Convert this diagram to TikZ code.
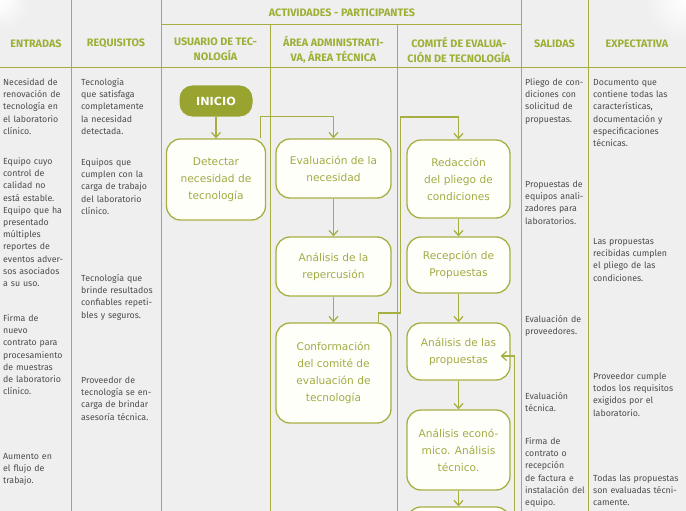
\documentclass[tikz,border=0pt]{standalone}
\usepackage{fontspec}
\setmainfont{Fira Sans}
\newfontfamily\boxfont{DejaVu Sans}
\usetikzlibrary{arrows.meta}
\definecolor{bg}{HTML}{EFEFEF}
\definecolor{olive}{HTML}{A8AF42}
\definecolor{headc}{HTML}{9EAF35}
\definecolor{boxtext}{HTML}{A2AA44}
\definecolor{bodytext}{HTML}{4C4C4C}
\definecolor{boxfill}{HTML}{FFFFFA}
\definecolor{inifill}{HTML}{99A32F}
\begin{document}
\begin{tikzpicture}[x=1pt,y=-1pt,
  sep/.style={draw=olive,line width=1pt},
  hdr/.style={font=\bfseries\fontsize{10.8}{15}\selectfont,text=headc,align=center,inner sep=0pt},
  body/.style={font=\fontsize{8.8}{12.2}\selectfont,text=bodytext,align=left,anchor=base west,inner sep=0pt,text width=95pt},
  stepbox/.style={draw=olive,line width=1.3pt,fill=boxfill,rounded corners=14pt,
     font=\boxfont\fontsize{10.6}{17}\selectfont,text=boxtext,align=center,inner sep=0pt},
  startbox/.style={fill=inifill,rounded corners=13pt,font=\boxfont\bfseries\fontsize{11.2}{13}\selectfont,
     text=white,inner sep=0pt,minimum width=73pt,minimum height=31pt},
  arr/.style={draw=olive,line width=1.3pt,-{Straight Barb[length=5pt,width=9pt]}}
]
\clip (0,0) rectangle (686,511);
\fill[bg] (0,0) rectangle (686,511);
\shade[inner color=white,outer color=bg] (686,0) circle[radius=42];
\shade[inner color=white,outer color=bg] (0,0) circle[radius=30];

% grid lines
\draw[sep] (71.5,0) -- (71.5,511);
\draw[sep] (161,0) -- (161,511);
\draw[sep] (270,25) -- (270,511);
\draw[sep] (397,25) -- (397,511);
\draw[sep] (521,0) -- (521,511);
\draw[sep] (588,0) -- (588,511);
\draw[sep] (161,25) -- (521,25);
\draw[sep] (0,68) -- (686,68);

% headers
\node[hdr] (hact) at (342,12.5) {ACTIVIDADES - PARTICIPANTES};
\node[hdr] (hent) at (36,43.5) {ENTRADAS};
\node[hdr] (hreq) at (116,43.5) {REQUISITOS};
\node[hdr] (husu) at (215.5,49.5) {USUARIO DE TEC-\\NOLOGÍA};
\node[hdr] (hare) at (333.5,49.5) {ÁREA ADMINISTRATI-\\VA, ÁREA TÉCNICA};
\node[hdr] (hcom) at (459,49.5) {COMITÉ DE EVALUA-\\CIÓN DE TECNOLOGÍA};
\node[hdr] (hsal) at (554.5,43.5) {SALIDAS};
\node[hdr] (hexp) at (637,43.5) {EXPECTATIVA};

% ENTRADAS
\node[body] (e1) at (3,85.5) {Necesidad de\\renovación de\\tecnología en\\el laboratorio\\clínico.};
\node[body] (e2) at (3,164.5) {Equipo cuyo\\control de\\calidad no\\está estable.\\Equipo que ha\\presentado\\múltiples\\reportes de\\eventos adver-\\sos asociados\\a su uso.};
\node[body] (e3) at (3,321.5) {Firma de\\nuevo\\contrato para\\procesamiento\\de muestras\\de laboratorio\\clínico.};
\node[body] (e4) at (3,459.5) {Aumento en\\el flujo de\\trabajo.};

% REQUISITOS
\node[body] (r1) at (81,85.5) {Tecnología\\que satisfaga\\completamente\\la necesidad\\detectada.};
\node[body] (r2) at (81,165.5) {Equipos que\\cumplen con la\\carga de trabajo\\del laboratorio\\clínico.};
\node[body] (r3) at (81,281.5) {Tecnología que\\brinde resultados\\confiables repeti-\\bles y seguros.};
\node[body] (r4) at (81,383.5) {Proveedor de\\tecnología se en-\\carga de brindar\\asesoría técnica.};

% SALIDAS
\node[body] (s1) at (525,85.5) {Pliego de con-\\diciones con\\solicitud de\\propuestas.};
\node[body] (s2) at (525,187.5) {Propuestas de\\equipos anali-\\zadores para\\laboratorios.};
\node[body] (s3) at (525,322.5) {Evaluación de\\proveedores.};
\node[body] (s4) at (525,399.5) {Evaluación\\técnica.};
\node[body] (s5) at (525,444.5) {Firma de\\contrato o\\recepción\\de factura e\\instalación del\\equipo.};

% EXPECTATIVA
\node[body] (x1) at (593,85.5) {Documento que\\contiene todas las\\características,\\documentación y\\especificaciones\\técnicas.};
\node[body] (x2) at (593,244.5) {Las propuestas\\recibidas cumplen\\el pliego de las\\condiciones.};
\node[body] (x3) at (593,379.5) {Proveedor cumple\\todos los requisitos\\exigidos por el\\laboratorio.};
\node[body] (x4) at (593,481.5) {Todas las propuestas\\son evaluadas técni-\\camente.};

% flow boxes
\node[startbox] (ini) at (216,101) {INICIO};
\node[stepbox,minimum width=99pt,minimum height=81pt] (det) at (216,179.5) {Detectar\\necesidad de\\tecnología};
\node[stepbox,minimum width=115pt,minimum height=59pt] (eva) at (333.5,168.5) {Evaluación de la\\necesidad};
\node[stepbox,minimum width=115pt,minimum height=59pt] (rep) at (333.5,266.5) {Análisis de la\\repercusión};
\node[stepbox,minimum width=115pt,minimum height=100pt] (conf) at (333.5,373) {Conformación\\del comité de\\evaluación de\\tecnología};
\node[stepbox,minimum width=103pt,minimum height=78pt] (red) at (458.5,179) {Redacción\\del pliego de\\condiciones};
\node[stepbox,minimum width=103pt,minimum height=56pt] (rec) at (458.5,265) {Recepción de\\Propuestas};
\node[stepbox,minimum width=103pt,minimum height=57pt] (prop) at (458.5,351.5) {Análisis de las\\propuestas};
\node[stepbox,minimum width=103pt,minimum height=80pt] (eco) at (458.5,450) {Análisis econó-\\mico. Análisis\\técnico.};
\node[stepbox,minimum width=103pt,minimum height=80pt] (nxt) at (458.5,547) {};

% connectors
\coordinate (c1) at (400.5,313);
\coordinate (c2) at (400.5,117);
\coordinate (lb) at (514.5,530);
\draw[arr] (ini) -- (det);
\draw[arr] ([xshift=-6pt]det.north east) |- ([yshift=22pt]eva.north) -- (eva.north);
\draw[arr] (eva) -- (rep);
\draw[arr] (rep) -- (conf);
\draw[arr] ([xshift=-13pt]conf.north east) |- (c1) -- (c2) -| (red.north);
\draw[arr] (red) -- (rec);
\draw[arr] (rec) -- (prop);
\draw[arr] (prop) -- (eco);
\draw[arr] (eco) -- (nxt);
\draw[arr] (lb) |- ([xshift=-10pt,yshift=-4.5pt]prop.east);
\end{tikzpicture}
\end{document}
